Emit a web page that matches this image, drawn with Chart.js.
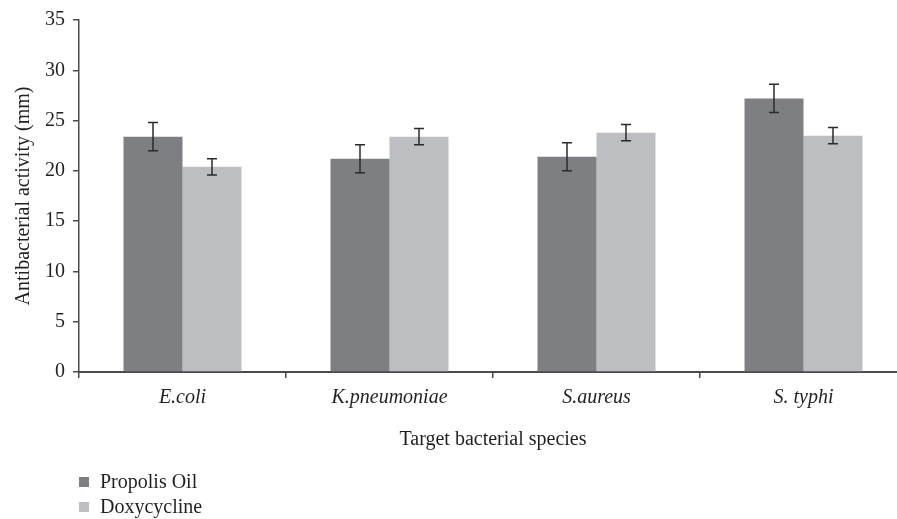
<!DOCTYPE html>
<html>
<head>
<meta charset="utf-8">
<script src="https://cdn.jsdelivr.net/npm/chart.js@4/dist/chart.umd.min.js"></script>
<style>
  html, body { margin: 0; padding: 0; background: #fff; overflow: hidden; }
  #wrap { width: 912px; height: 519px; position: relative; }
</style>
</head>
<body>
<div id="wrap"><canvas id="chart"></canvas></div>
<script>
const categories = ['E.coli', 'K.pneumoniae', 'S.aureus', 'S. typhi'];
const seriesNames = ['Propolis Oil', 'Doxycycline'];
const propolisValues = [23.4, 21.2, 21.4, 27.2];
const propolisErrors = [1.4, 1.4, 1.4, 1.4];
const doxyValues = [20.4, 23.4, 23.8, 23.5];
const doxyErrors = [0.8, 0.8, 0.8, 0.8];
const yTicks = [0, 5, 10, 15, 20, 25, 30, 35];

const COLORS = {
    dark: '#7e7f83',
    light: '#bdbec2',
    axis: '#4a4a4a',
    text: '#231f20',
    err: '#2b2b2b'
};

const FONT = "'Liberation Serif', 'DejaVu Serif', serif";
const FONT_SIZE = 20;

// error bars drawn on top of each bar
const errorBars = {
    id: 'errorBars',
    afterDatasetsDraw(chart) {
        const ctx = chart.ctx;
        const yScale = chart.scales.y;
        ctx.save();
        ctx.strokeStyle = COLORS.err;
        ctx.lineWidth = 1.5;
        chart.data.datasets.forEach((ds, i) => {
            const meta = chart.getDatasetMeta(i);
            meta.data.forEach((bar, j) => {
                const v = ds.data[j];
                const e = ds.errors[j];
                const top = yScale.getPixelForValue(v + e);
                const bot = yScale.getPixelForValue(v - e);
                const x = bar.x;
                ctx.beginPath();
                ctx.moveTo(x, top); ctx.lineTo(x, bot);
                ctx.moveTo(x - 5, top); ctx.lineTo(x + 5, top);
                ctx.moveTo(x - 5, bot); ctx.lineTo(x + 5, bot);
                ctx.stroke();
            });
        });
        ctx.restore();
    }
};

// stacked legend at bottom left
const stackedLegend = {
    id: 'stackedLegend',
    afterDraw(chart) {
        const ctx = chart.ctx;
        ctx.save();
        ctx.font = FONT_SIZE + 'px ' + FONT;
        ctx.textBaseline = 'middle';
        ctx.textAlign = 'left';
        chart.data.datasets.forEach((ds, i) => {
            const cy = 482 + i * 25;
            ctx.fillStyle = ds.backgroundColor;
            ctx.fillRect(79, cy - 5, 10, 10);
            ctx.fillStyle = COLORS.text;
            ctx.fillText(ds.label, 100, cy + 1);
        });
        ctx.restore();
    }
};

const ctx = document.getElementById('chart').getContext('2d');
new Chart(ctx, {
    type: 'bar',
    data: {
        labels: categories,
        datasets: [{
            label: seriesNames[0],
            data: propolisValues,
            errors: propolisErrors,
            backgroundColor: COLORS.dark
        }, {
            label: seriesNames[1],
            data: doxyValues,
            errors: doxyErrors,
            backgroundColor: COLORS.light
        }]
    },
    options: {
        responsive: true,
        maintainAspectRatio: false,
        animation: false,
        devicePixelRatio: 1,
        layout: { padding: { top: 14, left: 0, right: 5, bottom: 67 } },
        datasets: { bar: { categoryPercentage: 0.57, barPercentage: 1.0 } },
        plugins: {
            legend: { display: false },
            tooltip: { enabled: false }
        },
        scales: {
            x: {
                offset: true,
                grid: {
                    display: true,
                    drawOnChartArea: false,
                    tickLength: 6,
                    color: COLORS.axis,
                    lineWidth: 1.5
                },
                border: { color: COLORS.axis, width: 2 },
                ticks: {
                    color: COLORS.text,
                    padding: 8,
                    font: { family: FONT, size: FONT_SIZE, style: 'italic' }
                },
                title: {
                    display: true,
                    text: 'Target bacterial species',
                    color: COLORS.text,
                    font: { family: FONT, size: FONT_SIZE },
                    padding: { top: 5, bottom: 0 }
                },
                afterFit: (scale) => { scale.height = 80; }
            },
            y: {
                min: 0,
                max: 35,
                afterBuildTicks: (scale) => { scale.ticks = yTicks.map(v => ({ value: v })); },
                grid: {
                    display: true,
                    drawOnChartArea: false,
                    tickLength: 6,
                    color: COLORS.axis,
                    lineWidth: 1.5
                },
                border: { color: COLORS.axis, width: 1.5 },
                ticks: {
                    color: COLORS.text,
                    padding: 8,
                    font: { family: FONT, size: FONT_SIZE }
                },
                title: {
                    display: true,
                    text: 'Antibacterial activity (mm)',
                    color: COLORS.text,
                    font: { family: FONT, size: FONT_SIZE },
                    padding: { top: 12, bottom: 0 }
                },
                afterFit: (scale) => { scale.width = 79; }
            }
        }
    },
    plugins: [errorBars, stackedLegend]
});
</script>
</body>
</html>
